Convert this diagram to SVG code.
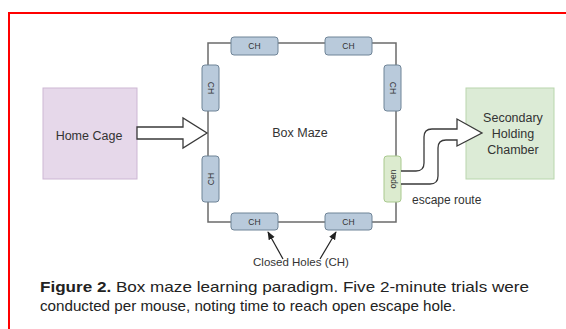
<svg xmlns="http://www.w3.org/2000/svg" width="566" height="329" viewBox="0 0 566 329">
  <style>
    .wall { stroke: #6b6b6b; stroke-width: 1.5; fill: none; }
    .ch { fill: #b9cadb; stroke: #6f8497; stroke-width: 1; }
    .open { fill: #dcebcf; stroke: #a9c98e; stroke-width: 1; }
    .lbl { font-family: "Liberation Sans", Arial, sans-serif; fill: #333; }
    .small { font-size: 8.5px; text-anchor: middle; dominant-baseline: central; }
    .big { font-size: 12.5px; text-anchor: middle; }
    .arrow { fill: #ffffff; stroke: #3a3a3a; stroke-width: 1.3; stroke-linejoin: miter; }
    .cap { font-family: "Liberation Sans", Arial, sans-serif; font-size: 15px; fill: #222; }
  </style>
  <defs>
    <marker id="tip" viewBox="0 0 10 10" refX="9" refY="5" markerWidth="7" markerHeight="7" orient="auto-start-reverse">
      <path d="M0,1 L10,5 L0,9 z" fill="#222"/>
    </marker>
  </defs>

  <rect width="566" height="329" fill="#ffffff"/>
  <!-- red frame, open past the right and bottom edges -->
  <rect x="9" y="13" width="600" height="340" fill="none" stroke="#ff0000" stroke-width="2"/>

  <!-- maze outline -->
  <g id="maze-walls">
    <path class="wall" d="M208,43 H396 V222 H208 Z"/>
  </g>

  <!-- holes -->
  <g id="hole-top-1"><rect class="ch" x="231" y="37" width="47" height="18" rx="3"/><text class="lbl small" x="254.5" y="46">CH</text></g>
  <g id="hole-top-2"><rect class="ch" x="325" y="37" width="47" height="18" rx="3"/><text class="lbl small" x="348.5" y="46">CH</text></g>
  <g id="hole-left-1"><rect class="ch" x="202" y="65" width="17" height="46" rx="3"/><text class="lbl small" transform="translate(210.5,88) rotate(90)">CH</text></g>
  <g id="hole-left-2"><rect class="ch" x="202" y="156" width="17" height="46" rx="3"/><text class="lbl small" transform="translate(210.5,179) rotate(-90)">CH</text></g>
  <g id="hole-right-1"><rect class="ch" x="384" y="65" width="17" height="46" rx="3"/><text class="lbl small" transform="translate(392.5,88) rotate(90)">CH</text></g>
  <g id="hole-open"><rect class="open" x="384" y="156" width="17" height="46" rx="3"/><text class="lbl small" transform="translate(392.5,179) rotate(-90)">open</text></g>
  <g id="hole-bottom-1"><rect class="ch" x="231" y="213" width="47" height="17" rx="3"/><text class="lbl small" x="254.5" y="221.5">CH</text></g>
  <g id="hole-bottom-2"><rect class="ch" x="325" y="213" width="47" height="17" rx="3"/><text class="lbl small" x="348.5" y="221.5">CH</text></g>

  <g id="box-maze"><text class="lbl big" x="300" y="137">Box Maze</text></g>

  <g id="home-cage">
    <rect x="43" y="88" width="94" height="91" fill="#e6d8ea" stroke="#cdb7d4" stroke-width="1"/>
    <text class="lbl big" x="89" y="140" font-size="13">Home Cage</text>
  </g>

  <g id="secondary-chamber">
    <rect x="466" y="88" width="88" height="91" fill="#dcebd6" stroke="#b9d6ad" stroke-width="1"/>
    <text class="lbl big" x="513" y="122" font-size="13">Secondary</text>
    <text class="lbl big" x="513" y="138" font-size="13">Holding</text>
    <text class="lbl big" x="513" y="154" font-size="13">Chamber</text>
  </g>

  <g id="connectors">
    <polygon class="arrow" points="137,127 183,127 183,118 207,133 183,148 183,139 137,139"/>
    <path class="arrow" d="M401,171 H416 Q424,171 424,163 V137 Q424,129 432,129 H457 V119 L482,133 L457,146 V140 H446 Q438,140 438,148 V176 Q438,184 430,184 H401"/>
    <line x1="283" y1="259" x2="268" y2="232" stroke="#222" stroke-width="1.2" marker-end="url(#tip)"/>
    <line x1="320" y1="259" x2="336" y2="232" stroke="#222" stroke-width="1.2" marker-end="url(#tip)"/>
  </g>

  <text class="lbl" x="412" y="204" font-size="12">escape route</text>
  <text class="lbl" x="301" y="266" font-size="11.5" text-anchor="middle">Closed Holes (CH)</text>

  <text class="cap" x="40" y="292" textLength="489" lengthAdjust="spacingAndGlyphs"><tspan font-weight="bold">Figure 2.</tspan> Box maze learning paradigm. Five 2-minute trials were</text>
  <text class="cap" x="40" y="311" textLength="416" lengthAdjust="spacingAndGlyphs">conducted per mouse, noting time to reach open escape hole.</text>
</svg>
